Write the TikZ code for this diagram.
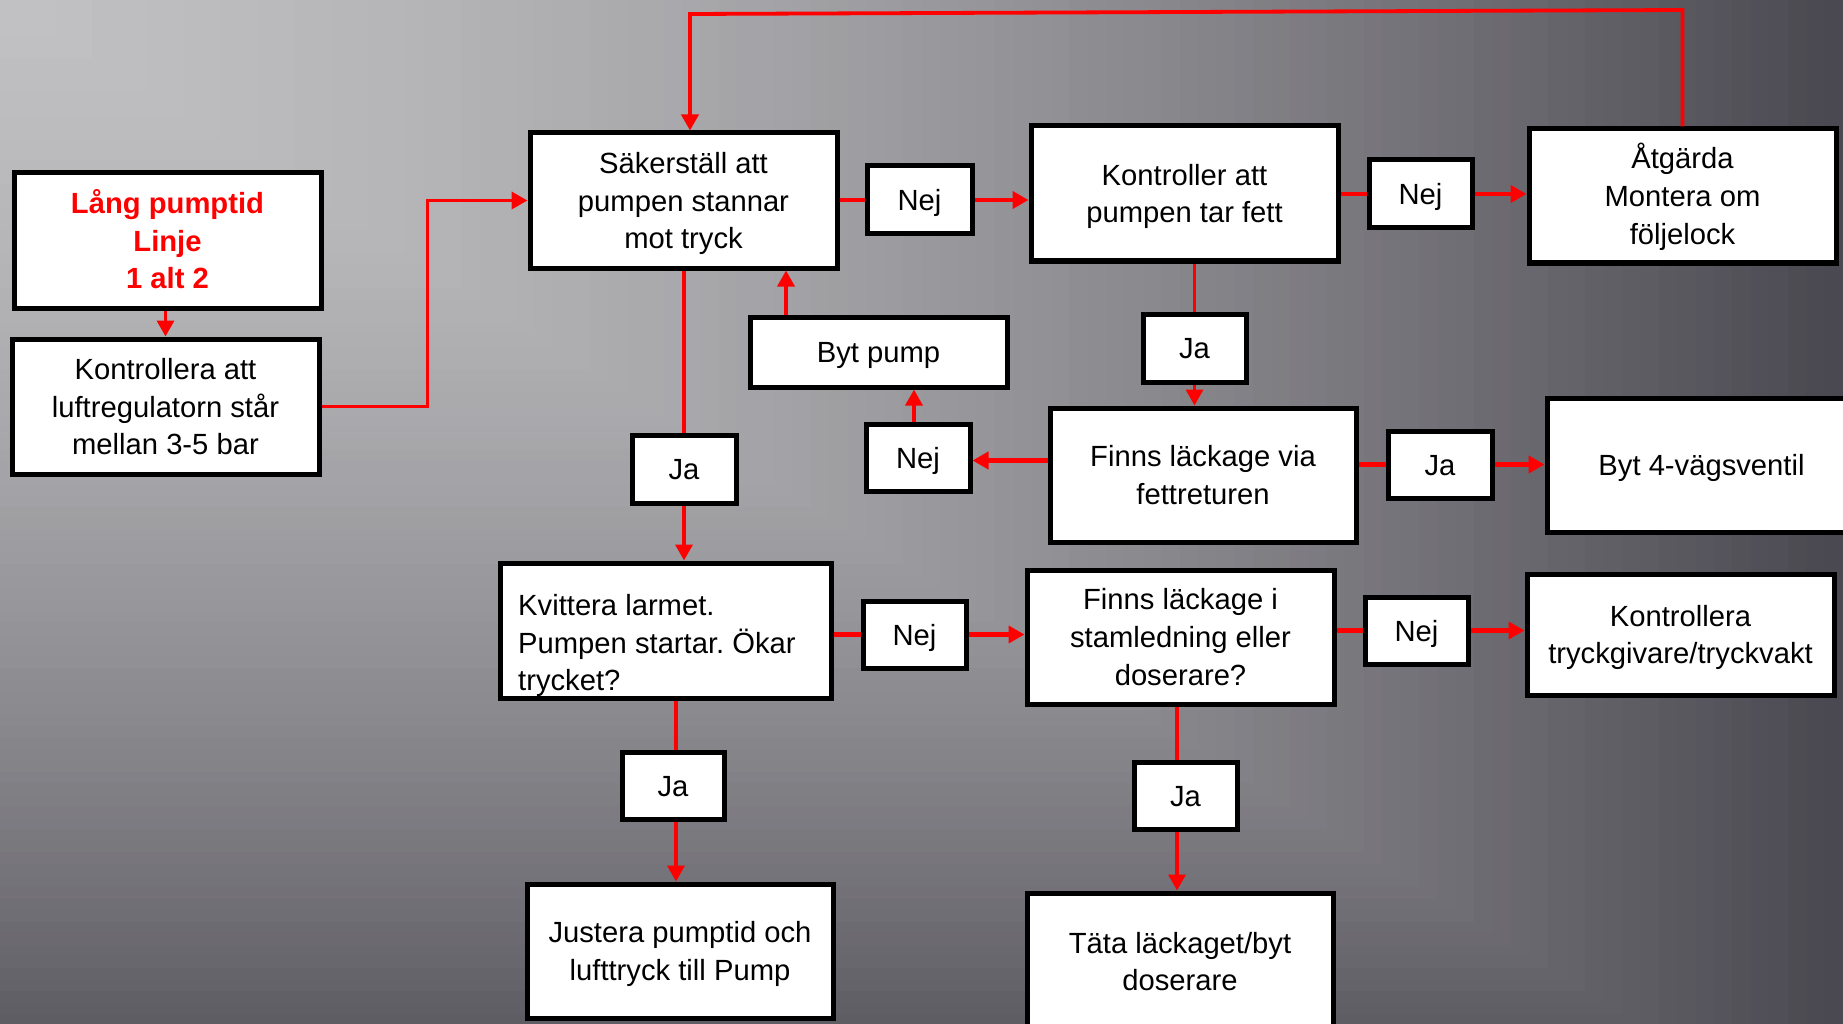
\documentclass[tikz,border=0pt]{standalone}
\usepackage{fontspec}
\setmainfont{Liberation Sans}
\usetikzlibrary{arrows.meta}
\definecolor{bglight}{HTML}{C2C2C4}
\definecolor{bgdark}{HTML}{4A4850}
\definecolor{linkred}{HTML}{FF0000}
\newcommand\bxt[1]{\raisebox{-3pt}[\height][\depth]{\begin{tabular}{@{}c@{}}#1\end{tabular}}}
\frenchspacing
\tikzset{
  box/.style={draw=black, line width=5pt, fill=white, inner sep=0pt, align=center,
    font=\fontsize{29.2pt}{37.6pt}\selectfont},
  txt/.style={inner sep=0pt, font=\fontsize{29.2pt}{37.6pt}\selectfont},
  conn/.style={draw=linkred, line width=3.8pt},
  hconn/.style={conn, line width=4.4pt},
  vconn/.style={conn, line width=3.4pt},
  tip/.style={-{Triangle[length=16pt,width=17pt]}},
}
\begin{document}
\begin{tikzpicture}[x=1pt,y=-1pt]
\useasboundingbox (0,0) rectangle (1843,1024);
\clip (0,0) rectangle (1843,1024);
% background: rectangular gradient from the top-left corner
\foreach \i in {100,99,...,1} {
  \pgfmathsetmacro\t{\i/100}
  \pgfmathtruncatemacro\p{100-100*(0.3*\t+0.7*\t*\t)}
  \fill[bglight!\p!bgdark] (0,0) rectangle (18.43*\i,11.52*\i);
}
% boxes
\node[box, minimum width=307pt, minimum height=135pt, text=linkred,
  font=\fontsize{29.2pt}{37.6pt}\selectfont\bfseries] (lang) at (167.5,240.5) {\bxt{Lång pumptid\\Linje\\1 alt 2}};
\node[box, minimum width=307pt, minimum height=135pt] (kontr) at (165.5,406.5) {\bxt{Kontrollera att\\luftregulatorn står\\mellan 3-5 bar}};
\node[box, minimum width=307pt, minimum height=135pt] (saker) at (683.5,200.5) {\bxt{Säkerställ att\\pumpen stannar\\mot tryck}};
\node[box, minimum width=105pt, minimum height=68pt] (nej1) at (919.5,200) {\bxt{Nej}};
\node[box, minimum width=307pt, minimum height=135pt] (kfett) at (1184.5,193.5) {\bxt{Kontroller att\\pumpen tar fett}};
\node[box, minimum width=103pt, minimum height=68pt] (nej2) at (1420.5,194) {\bxt{Nej}};
\node[box, minimum width=307pt, minimum height=134pt] (atg) at (1682.5,196) {\bxt{Åtgärda\\Montera om\\följelock}};
\node[box, minimum width=257pt, minimum height=70pt] (bytpump) at (878.5,352) {\bxt{Byt pump}};
\node[box, minimum width=103pt, minimum height=68pt] (ja1) at (1194.5,348) {\bxt{Ja}};
\node[box, minimum width=104pt, minimum height=67pt] (nej3) at (918,457.5) {\bxt{Nej}};
\node[box, minimum width=306pt, minimum height=134pt] (fett) at (1203,475) {\bxt{Finns läckage via\\fettreturen}};
\node[box, minimum width=104pt, minimum height=67pt] (ja2) at (1440,464.5) {\bxt{Ja}};
\node[box, minimum width=309pt, minimum height=134pt] (byt4) at (1701.5,465) {\bxt{Byt 4-vägsventil}};
\node[box, minimum width=104pt, minimum height=68pt] (ja3) at (684,469) {\bxt{Ja}};
\node[box, minimum width=331pt, minimum height=135pt] (kvit) at (665.5,630.5) {};
\node[txt, anchor=west, align=left] (kvittxt) at ([xshift=20.5pt,yshift=-15pt]kvit.west) {Kvittera larmet.\\Pumpen startar. Ökar\\trycket?};
\node[box, minimum width=103pt, minimum height=67pt] (nej4) at (914.5,634.5) {\bxt{Nej}};
\node[box, minimum width=307pt, minimum height=134pt] (stam) at (1180.5,637) {\bxt{Finns läckage i\\stamledning eller\\doserare?}};
\node[box, minimum width=103pt, minimum height=67pt] (nej5) at (1416.5,630.5) {\bxt{Nej}};
\node[box, minimum width=307pt, minimum height=121pt] (tryck) at (1680.5,634.5) {\bxt{Kontrollera\\tryckgivare/tryckvakt}};
\node[box, minimum width=102pt, minimum height=67pt] (ja4) at (673,785.5) {\bxt{Ja}};
\node[box, minimum width=306pt, minimum height=134pt] (just) at (680,951) {\bxt{Justera pumptid och\\lufttryck till Pump}};
\node[box, minimum width=103pt, minimum height=67pt] (ja5) at (1185.5,795.5) {\bxt{Ja}};
\node[box, minimum width=306pt, minimum height=137pt] (tata) at (1180,961.5) {\bxt{Täta läckaget/byt\\doserare}};
% connectors
\draw[vconn, tip] (lang.south -| kontr.north) -- (kontr.north);
\draw[conn, tip] (kontr.east) -- ++(106,0) |- (saker.west);
\draw[hconn] (nej1.west -| saker.east) -- (nej1.west);
\draw[hconn, tip] (nej1.east) -- (nej1.east -| kfett.west);
\draw[hconn] (nej2.west -| kfett.east) -- (nej2.west);
\draw[hconn, tip] (nej2.east) -- (nej2.east -| atg.west);
\coordinate (loopL) at (690,14);
\coordinate (loopR) at (1682.5,10);
\draw[conn, tip] (atg.north) -- (loopR) -- (loopL) -- (loopL |- saker.north);
\draw[vconn] (ja1.north |- kfett.south) -- (ja1.north);
\draw[vconn, tip] (ja1.south) -- (ja1.south |- fett.north);
\draw[hconn, tip] ([yshift=-3pt]fett.west |- nej3.east) -- ([yshift=-3pt]nej3.east);
\draw[vconn, tip] ([xshift=-4pt]nej3.north) -- ([xshift=-4pt]nej3.north |- bytpump.south);
\draw[vconn, tip] ([xshift=-92.5pt]bytpump.north) -- ([xshift=-92.5pt]bytpump.north |- saker.south);
\draw[hconn] (ja2.west -| fett.east) -- (ja2.west);
\draw[hconn, tip] (ja2.east) -- (ja2.east -| byt4.west);
\draw[vconn] (ja3.north |- saker.south) -- (ja3.north);
\draw[vconn, tip] (ja3.south) -- (ja3.south |- kvit.north);
\draw[hconn] (nej4.west -| kvit.east) -- (nej4.west);
\draw[hconn, tip] (nej4.east) -- (nej4.east -| stam.west);
\draw[hconn] (nej5.west -| stam.east) -- (nej5.west);
\draw[hconn, tip] (nej5.east) -- (nej5.east -| tryck.west);
\draw[vconn] ([xshift=3pt]ja4.north |- kvit.south) -- ([xshift=3pt]ja4.north);
\draw[vconn, tip] ([xshift=3pt]ja4.south) -- ([xshift=3pt]ja4.south |- just.north);
\draw[vconn] ([xshift=-8.5pt]ja5.north |- stam.south) -- ([xshift=-8.5pt]ja5.north);
\draw[vconn, tip] ([xshift=-8.5pt]ja5.south) -- ([xshift=-8.5pt]ja5.south |- tata.north);
\end{tikzpicture}
\end{document}
